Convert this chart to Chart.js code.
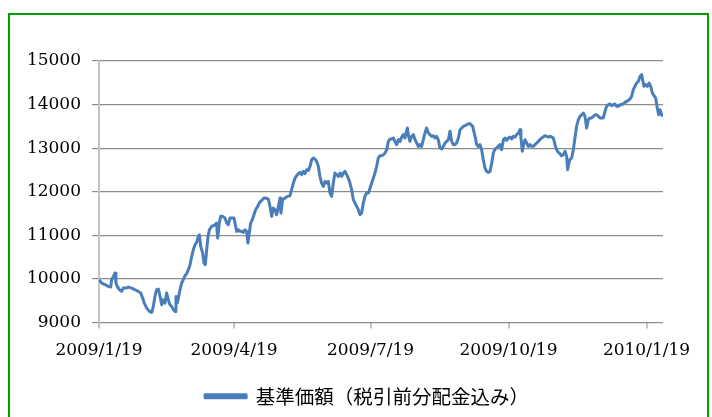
<!DOCTYPE html>
<html>
<head>
<meta charset="utf-8">
<script src="https://cdn.jsdelivr.net/npm/chart.js@4/dist/chart.umd.min.js"></script>
<style>
  html, body { margin:0; padding:0; background:#fff; }
  #wrap { position:relative; width:712px; height:417px; overflow:hidden; }
  #frame { position:absolute; left:8px; top:13px; width:697px; height:430px; border:2px solid #00a000; pointer-events:none; }
</style>
</head>
<body>
<div id="wrap">
  <canvas id="navChart" width="712" height="417"></canvas>
  <div id="frame"></div>
</div>
<script>
// tick labels (x = days since 2009/1/19)
const tickDays = [0, 90, 181, 273, 365];
const tickLabels = ['2009/1/19', '2009/4/19', '2009/7/19', '2009/10/19', '2010/1/19'];
const seriesName = '基準価額（税引前分配金込み）';

// Jan - mid May 2009
const days1 = [0,1.8,4,6.2,7.8,8.4,9.6,10.7,11.3,12.2,13.6,15.1,16.2,18,19.6,21.8,24,26.2,27.8,29.1,30.2,31.8,33.6,35.1,36.2,37.3,38.4,39.6,40.7,41.8,42.9,44,45.1,46.2,47.3,48.4,49.6,50.7,51.3,52.2,53.1,54,55.1,56.2,57.3,58.4,59.6,60.7,61.8,62.9,64,65.1,66.2,66.9,67.8,69.1,70,70.9,71.8,72.7,73.6,75.1,76.2,77.3,78.4,79.1,80.2,81.1,82.4,84,85.1,86.2,87.3,88.4,90,91.1,91.8,92.9,94,95.1,96.2,97.3,98.4,99.3,100.2,101.1,102.2,103.3,104.4,105.8,106.9,107.8,108.9,110,111.3,112.9,114,115.1,116.2,117.3,118.4,119.6];
const nav1 = [9982,9905,9867,9829,9813,9982,10058,10135,9905,9829,9752,9714,9790,9790,9813,9790,9752,9714,9676,9561,9446,9331,9255,9232,9370,9599,9752,9767,9599,9408,9523,9446,9676,9523,9408,9370,9293,9255,9599,9446,9599,9752,9905,9982,10073,10119,10211,10326,10517,10670,10785,10838,10976,11014,10747,10594,10364,10326,10670,10976,11129,11206,11221,11244,11282,10938,11282,11435,11435,11397,11282,11244,11397,11397,11397,11206,11091,11129,11091,11091,11068,11129,11091,10823,11053,11282,11359,11473,11588,11665,11741,11779,11818,11856,11856,11833,11665,11435,11627,11588,11473,11665];

// mid May - late Sep 2009
const days2 = [120.7,121.3,122.4,124,125.6,127.3,128.4,129.6,130.7,131.8,132.9,134,135.1,136.2,137.3,138.4,139.6,140.7,141.8,142.9,144,145.1,146.2,147.3,148.4,149.6,150.7,151.8,152.9,154,155.1,156.2,157.3,158.4,159.6,160.7,161.8,162.9,164,165.1,166.2,167.3,168.4,169.6,170.7,171.8,172.9,174,175.1,176.2,177.3,178.4,179.6,180.7,181.8,182.9,184,185.1,186.2,187.3,188.4,189.6,190.7,191.8,192.9,194,195.1,196.2,197.3,198.4,199.6,200.7,201.8,202.9,204,204.7,205.6,206.4,207.3,208.4,209.6,210.7,211.8,212.9,214,215.1,216.2,217.3,218.4,219.6,220.7,221.8,222.9,224,225.1,226.2,227.3,228.4,229.6,230.7,231.8,232.9,234,235.1,236.2,237.3,238.4,239.6,240.7,241.8,242.9,244,245.1,246.2,247.3];
const nav2 = [11856,11512,11818,11856,11894,11909,12047,12200,12315,12368,12414,12445,12391,12468,12414,12506,12491,12583,12736,12774,12751,12697,12583,12353,12200,12124,12238,12200,12238,11971,11894,12200,12430,12391,12353,12430,12353,12430,12468,12391,12315,12200,12047,11818,11741,11665,11588,11473,11512,11741,11894,11971,11971,12085,12200,12315,12430,12583,12774,12827,12827,12850,12889,12965,13156,13210,13210,13233,13156,13080,13195,13156,13256,13309,13233,13348,13462,13271,13156,13271,13309,13195,13118,13042,13080,13042,13195,13348,13462,13348,13309,13271,13286,13233,13271,13195,13003,12980,13042,13118,13156,13195,13386,13156,13080,13080,13118,13233,13424,13462,13501,13516,13539,13562,13562];

// late Sep 2009 - end Jan 2010
const days3 = [249.1,250.7,251.8,252.9,254,255.1,256.2,257.3,258.4,259.6,260.7,261.8,262.9,264,265.1,266.2,267.3,268.4,269.6,270.7,271.8,272.9,274,275.1,276.2,277.3,278.4,279.6,280.7,281.3,282.2,283.3,284,285.1,286.2,287.3,288.4,289.6,290.7,291.8,292.9,294,295.1,296.2,297.3,298.4,299.6,300.7,301.8,302.9,304,305.1,306.2,307.3,308.4,309.6,310.7,311.8,312.4,313.3,314,315.1,316.2,317.3,318.4,319.6,320.7,321.8,322.9,324,325.1,326.2,327.3,328.4,329.6,330.7,331.8,332.9,334,335.1,336.2,337.3,338.4,339.6,340.7,341.8,342.9,344,345.1,346.2,347.3,348.4,349.6,350.7,351.8,352.9,354,355.1,356.2,357.3,358.4,359.6,360.7,361.8,362.4,363.3,364.4,365.6,366.7,367.8,368.9,370,371.1,372.2,373.1,374,375.1,376];
const nav3 = [13501,13271,13080,13042,13080,12965,12736,12544,12468,12445,12468,12659,12889,12980,13003,13042,13080,12965,13195,13233,13179,13233,13256,13210,13271,13256,13309,13348,13424,13233,12927,13118,13195,13118,13042,13080,13042,13042,13080,13118,13156,13195,13233,13256,13286,13271,13256,13271,13256,13233,13080,12965,12904,12873,12827,12850,12927,12812,12506,12659,12736,12774,12965,13233,13501,13654,13730,13768,13807,13730,13462,13654,13692,13692,13730,13768,13768,13730,13692,13692,13692,13845,13960,13998,14013,13975,13998,14013,13960,13960,13998,13998,14021,14051,14074,14097,14128,14189,14342,14419,14495,14533,14648,14686,14572,14419,14457,14419,14495,14419,14266,14204,14151,13922,13768,13883,13768,13730];

const allDays = days1.concat(days2, days3);
const allNav = nav1.concat(nav2, nav3);
const points = allDays.map((d, i) => ({ x: d, y: allNav[i] }));

const serif = { family: '"DejaVu Serif", serif', size: 17 };
const gridGray = '#8c8c8c';
const lightGray = '#c4c4c4';

new Chart(document.getElementById('navChart'), {
  type: 'line',
  data: {
    datasets: [{
      label: seriesName,
      data: points,
      borderColor: '#4a7ebb',
      backgroundColor: '#4a7ebb',
      borderWidth: 3,
      pointRadius: 0,
      tension: 0,
      borderJoinStyle: 'round'
    }]
  },
  options: {
    responsive: false,
    animation: false,
    layout: { padding: { left: 22, top: 61, right: 0, bottom: 1 } },
    plugins: {
      tooltip: { enabled: false },
      legend: {
        position: 'bottom',
        labels: {
          color: '#000',
          font: { family: '"Noto Sans CJK JP", sans-serif', size: 19.5 },
          boxWidth: 41,
          boxHeight: 3,
          padding: 10
        }
      }
    },
    scales: {
      x: {
        type: 'linear',
        min: 0,
        max: 376,
        afterBuildTicks: s => { s.ticks = tickDays.map(v => ({ value: v })); },
        afterFit: s => { s.height = 54; },
        ticks: {
          autoSkip: false,
          maxRotation: 0,
          padding: 12,
          color: '#000',
          font: serif,
          callback: v => tickLabels[tickDays.indexOf(v)]
        },
        grid: { drawOnChartArea: false, tickLength: 6, tickColor: lightGray, lineWidth: 2 },
        border: { display: false }
      },
      y: {
        min: 9000,
        max: 15000,
        afterFit: s => { s.width = 77; },
        ticks: { stepSize: 1000, padding: 11, color: '#000', font: serif, callback: v => String(v) },
        grid: { color: gridGray, lineWidth: 1.2, tickLength: 7 },
        border: { color: lightGray, width: 2 }
      },
      // empty right margin so the legend sits where the reference has it
      yRight: {
        position: 'right',
        afterFit: s => { s.width = 49; },
        ticks: { display: false },
        grid: { display: false },
        border: { display: false }
      }
    }
  }
});
</script>
</body>
</html>
